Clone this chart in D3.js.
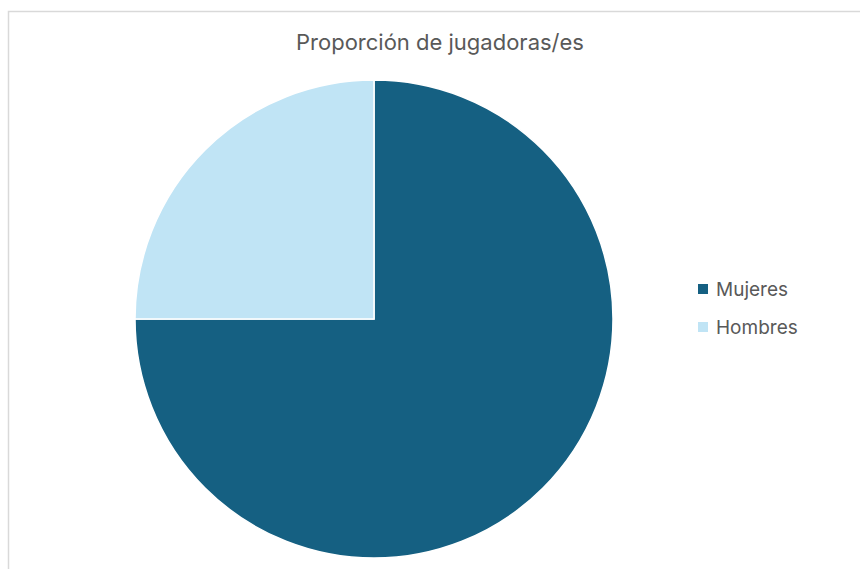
<!DOCTYPE html>
<html>
<head>
<meta charset="utf-8">
<script src="https://cdn.jsdelivr.net/npm/d3@7"></script>
<style>
  body { margin: 0; background: #fff; }
  text { font-family: "Inter", "Liberation Sans", sans-serif; fill: #595959; }
</style>
</head>
<body>
<div id="chart"></div>
<script>
// data
const categories = ["Mujeres", "Hombres"];
const values = [75, 25];
const colors = ["#156082", "#C0E4F5"];
const title = "Proporción de jugadoras/es";

const width = 860, height = 569;

const svg = d3.select("#chart").append("svg")
    .attr("width", width)
    .attr("height", height);

// chart frame (cut off at right and bottom)
svg.append("rect")
    .attr("x", 8.5).attr("y", 11.5)
    .attr("width", 900).attr("height", 600)
    .attr("fill", "none")
    .attr("stroke", "#d9d9d9")
    .attr("stroke-width", 1.5);

// title
svg.append("text")
    .attr("x", 440).attr("y", 50)
    .attr("text-anchor", "middle")
    .style("font-size", "22px")
    .text(title);

// pie
const cx = 374, cy = 319, r = 239;
const data = categories.map((c, i) => ({name: c, value: values[i], color: colors[i]}));

const pie = d3.pie()
    .value(d => d.value)
    .sort(null);

const arc = d3.arc()
    .innerRadius(0)
    .outerRadius(r);

svg.append("g")
    .attr("transform", "translate(" + cx + "," + cy + ")")
    .selectAll("path")
    .data(pie(data))
    .enter().append("path")
    .attr("d", arc)
    .attr("fill", d => d.data.color)
    .attr("stroke", "#fff")
    .attr("stroke-width", 1.5);

// legend
const legend = svg.append("g")
    .selectAll("g")
    .data(data)
    .enter().append("g")
    .attr("transform", (d, i) => "translate(698," + (284 + i * 38) + ")");

legend.append("rect")
    .attr("width", 10).attr("height", 10)
    .attr("fill", d => d.color);

legend.append("text")
    .attr("x", 18).attr("y", 11.5)
    .style("font-size", "19px")
    .text(d => d.name);
</script>
</body>
</html>
